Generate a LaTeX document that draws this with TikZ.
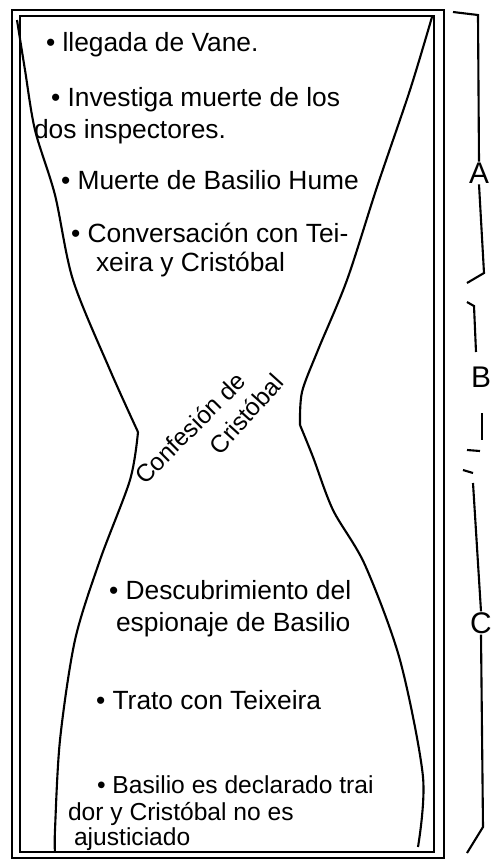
\documentclass[tikz,border=0pt]{standalone}
\usepackage{fontspec}
\setmainfont{Liberation Sans}
\begin{document}
\begin{tikzpicture}[x=0.02cm,y=-0.02cm,line width=1.2pt,
    item/.style={right,inner sep=0pt,font=\fontsize{15}{18}\selectfont},
    small item/.style={item,font=\fontsize{14}{16}\selectfont},
    neck/.style={inner sep=0pt,font=\fontsize{14}{16}\selectfont},
    tag/.style={inner sep=0pt,font=\fontsize{17}{20}\selectfont}]
	\useasboundingbox (0,0) rectangle (491,860);
	% marco doble
	\draw (12,10) rectangle (444,858);
	\draw (20,16) rectangle (434,852);
	
	% reloj de arena
	\draw plot[smooth] coordinates {(17,20) (25,70) (35,130) (55,195) (73,280) (110,370) (138,432)};
	\draw plot[smooth] coordinates {(138,432) (130,480) (100,560) (75,640) (60,740) (55,830) (55,852)};
	\draw plot[smooth] coordinates {(432,17) (410,90) (377,187) (347,280) (318,350) (302,392) (300,425)};
	\draw plot[smooth] coordinates {(300,425) (313,457) (333,510) (365,565) (400,660) (423,777) (418,847)};
	
	% parte de arriba
	\node[item] (llegada) at (45,45) {• llegada de Vane.};
	\node[item] (investiga) at (50,100) {• Investiga muerte de los};
	\node[item] (inspectores) at (33,132) {dos inspectores.};
	\node[item] (muerte) at (60,180) {• Muerte de Basilio Hume};
	\node[item] (conversacion) at (70,233) {• Conversación con Tei-};
	\node[item] (teixeira) at (95,265) {xeira y Cristóbal};
	
	% cuello
	\node[neck,rotate=45] (confesion) at (190,428) {Confesión de};
	\node[neck,rotate=48] (cristobal) at (246,414) {Cristóbal};
	
	% parte de abajo
	\node[item] (descubrimiento) at (108,590) {• Descubrimiento del};
	\node[item] (espionaje) at (115,625) {espionaje de Basilio};
	\node[item] (trato) at (95,700) {• Trato con Teixeira};
	\node[small item] (declarado) at (96,785) {• Basilio es declarado trai};
	\node[small item] (traidor) at (67,814) {dor y Cristóbal no es};
	\node[small item] (ajusticiado) at (73,839) {ajusticiado};
	
	% corchetes
	\node[tag] (A) at (479,173) {A};
	\node[tag] (B) at (481,377) {B};
	\node[tag] (C) at (481,623) {C};
	\draw (453,12) -- (478,15) -- (A.north);
	\draw (A.south) -- (484,273) -- (467,283);
	\draw (467,302) -- (474,306) -- (476,352);
	\draw (482,413) -- (482,440);
	\draw (467,450) -- (480,451);
	\draw (463,470) -- (473,473);
	\draw (473,483) -- (C.north);
	\draw (C.south) -- (483,827) -- (467,853);
\end{tikzpicture}
\end{document}
